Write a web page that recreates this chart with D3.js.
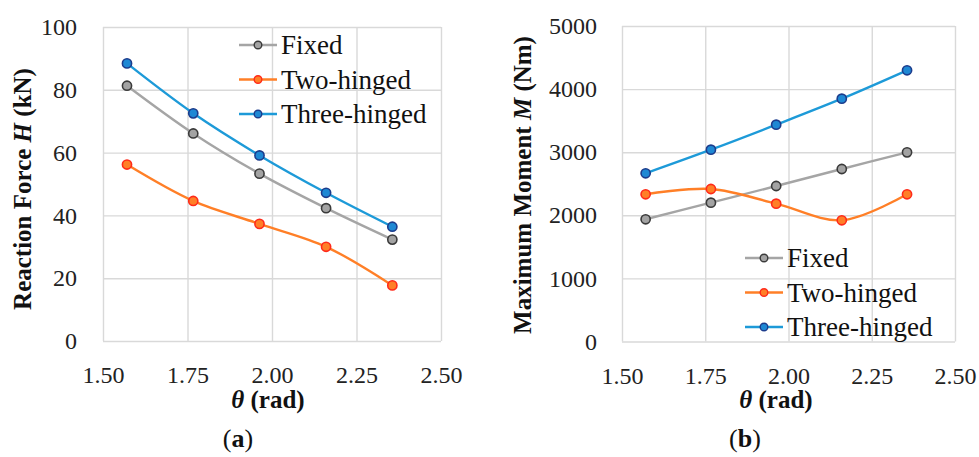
<!DOCTYPE html>
<html>
<head>
<meta charset="utf-8">
<script src="https://cdn.jsdelivr.net/npm/d3@7"></script>
<style>
  body { margin: 0; background: #fff; }
  svg { display: block; font-family: "Liberation Serif", "Times New Roman", serif; }
  .grid line { stroke: #d9d9d9; stroke-width: 1.4; }
  .grid text { fill: #222; }
</style>
</head>
<body>
<div id="chart"></div>
<script>
// angle of the arch (rad)
var theta = [1.571, 1.767, 1.963, 2.160, 2.356];
var seriesNames = ["Fixed", "Two-hinged", "Three-hinged"];

// panel (a): reaction force H (kN)
var forceFixed = [81.3, 66.1, 53.3, 42.3, 32.3];
var forceTwoHinged = [56.2, 44.6, 37.3, 30.0, 17.7];
var forceThreeHinged = [88.4, 72.5, 59.1, 47.2, 36.4];

// panel (b): maximum moment M (Nm)
var momentFixed = [1937, 2200, 2464, 2734, 2998];
var momentTwoHinged = [2333, 2417, 2184, 1921, 2333];
var momentThreeHinged = [2666, 3040, 3436, 3848, 4298];

var xTicks = [1.5, 1.75, 2.0, 2.25, 2.5];
var forceTicks = [0, 20, 40, 60, 80, 100];
var momentTicks = [0, 1000, 2000, 3000, 4000, 5000];

var serif = "'Liberation Serif', 'Times New Roman', serif";

var styles = [
  {line: "#a5a5a5", fill: "#a3a3a3", stroke: "#3a3a3a"},
  {line: "#ff7f27", fill: "#ff7f27", stroke: "#ff2a1a"},
  {line: "#1d9ad8", fill: "#1e88d4", stroke: "#1c3c8c"}
];

var svg = d3.select("#chart")
  .append("svg")
  .attr("width", 979)
  .attr("height", 457);

svg.append("rect").attr("width", 979).attr("height", 457).attr("fill", "#fff");

function styleAxis(s) {
  s.select(".domain").remove();
  s.attr("font-family", serif).attr("font-size", 24);
}

function drawPanel(p) {
  var width = p.right - p.left;
  var height = p.bottom - p.top;

  var g = svg.append("g")
    .attr("transform", "translate(" + p.left + "," + p.top + ")");

  var x = d3.scaleLinear().domain([1.5, 2.5]).range([0, width]);
  var y = d3.scaleLinear().domain([p.yTicks[0], p.yTicks[p.yTicks.length - 1]]).range([height, 0]);

  // gridlines + tick labels
  g.append("g")
    .attr("class", "grid")
    .call(d3.axisLeft(y).tickValues(p.yTicks).tickSize(-width).tickPadding(p.yPad).tickFormat(d3.format("d")))
    .call(styleAxis);

  g.append("g")
    .attr("class", "grid")
    .attr("transform", "translate(0," + height + ")")
    .call(d3.axisBottom(x).tickValues(xTicks).tickSize(-height).tickPadding(25).tickFormat(d3.format(".2f")))
    .call(styleAxis);

  var line = d3.line()
    .x(function(d, i) { return x(theta[i]); })
    .y(function(d) { return y(d); })
    .curve(d3.curveCatmullRom);

  p.series.forEach(function(vals, k) {
    g.append("path")
      .attr("d", line(vals))
      .attr("fill", "none")
      .attr("stroke", styles[k].line)
      .attr("stroke-width", 2.4);
  });

  p.series.forEach(function(vals, k) {
    g.selectAll(".pt" + k)
      .data(vals)
      .enter()
      .append("circle")
      .attr("cx", function(d, i) { return x(theta[i]); })
      .attr("cy", function(d) { return y(d); })
      .attr("r", 4.6)
      .attr("fill", styles[k].fill)
      .attr("stroke", styles[k].stroke)
      .attr("stroke-width", 1.6);
  });

  // legend
  var leg = svg.append("g")
    .attr("transform", "translate(" + p.legendX + "," + p.legendY + ")");
  seriesNames.forEach(function(name, k) {
    var row = leg.append("g").attr("transform", "translate(0," + (k * 34.5) + ")");
    row.append("line")
      .attr("x1", 0).attr("x2", 38)
      .attr("stroke", styles[k].line)
      .attr("stroke-width", 2.4);
    row.append("circle")
      .attr("cx", 19).attr("r", 3.8)
      .attr("fill", styles[k].fill)
      .attr("stroke", styles[k].stroke)
      .attr("stroke-width", 1.4);
    row.append("text")
      .attr("x", 42)
      .attr("dy", "0.34em")
      .attr("font-size", 27)
      .attr("fill", "#111")
      .text(name);
  });

  // y axis title
  var yt = svg.append("text")
    .attr("transform", "translate(" + p.yTitleX + "," + p.yTitleY + ") rotate(-90)")
    .attr("text-anchor", "middle")
    .attr("font-size", 25)
    .attr("font-weight", "bold")
    .attr("fill", "#111");
  yt.append("tspan").text(p.yTitle[0]);
  yt.append("tspan").attr("font-style", "italic").text(p.yTitle[1]);
  yt.append("tspan").text(p.yTitle[2]);

  // x axis title
  var xt = svg.append("text")
    .attr("x", p.xTitleX)
    .attr("y", 408)
    .attr("text-anchor", "middle")
    .attr("font-size", 25)
    .attr("font-weight", "bold")
    .attr("fill", "#111");
  xt.append("tspan").attr("font-style", "italic").text("θ");
  xt.append("tspan").text(" (rad)");

  // caption
  var cap = svg.append("text")
    .attr("x", p.capX)
    .attr("y", 447)
    .attr("text-anchor", "middle")
    .attr("font-size", 26)
    .attr("fill", "#111");
  cap.append("tspan").text("(");
  cap.append("tspan").attr("font-weight", "bold").text(p.capLetter);
  cap.append("tspan").text(")");
}

drawPanel({
  left: 103, right: 441, top: 27, bottom: 341,
  yTicks: forceTicks, yPad: 26,
  series: [forceFixed, forceTwoHinged, forceThreeHinged],
  legendX: 239, legendY: 45,
  yTitle: ["Reaction Force ", "H", " (kN)"], yTitleX: 31, yTitleY: 189,
  xTitleX: 268, capX: 238, capLetter: "a"
});

drawPanel({
  left: 622, right: 955, top: 26, bottom: 341.5,
  yTicks: momentTicks, yPad: 25,
  series: [momentFixed, momentTwoHinged, momentThreeHinged],
  legendX: 745, legendY: 258,
  yTitle: ["Maximum Moment ", "M", " (Nm)"], yTitleX: 531, yTitleY: 185,
  xTitleX: 776, capX: 745, capLetter: "b"
});
</script>
</body>
</html>
